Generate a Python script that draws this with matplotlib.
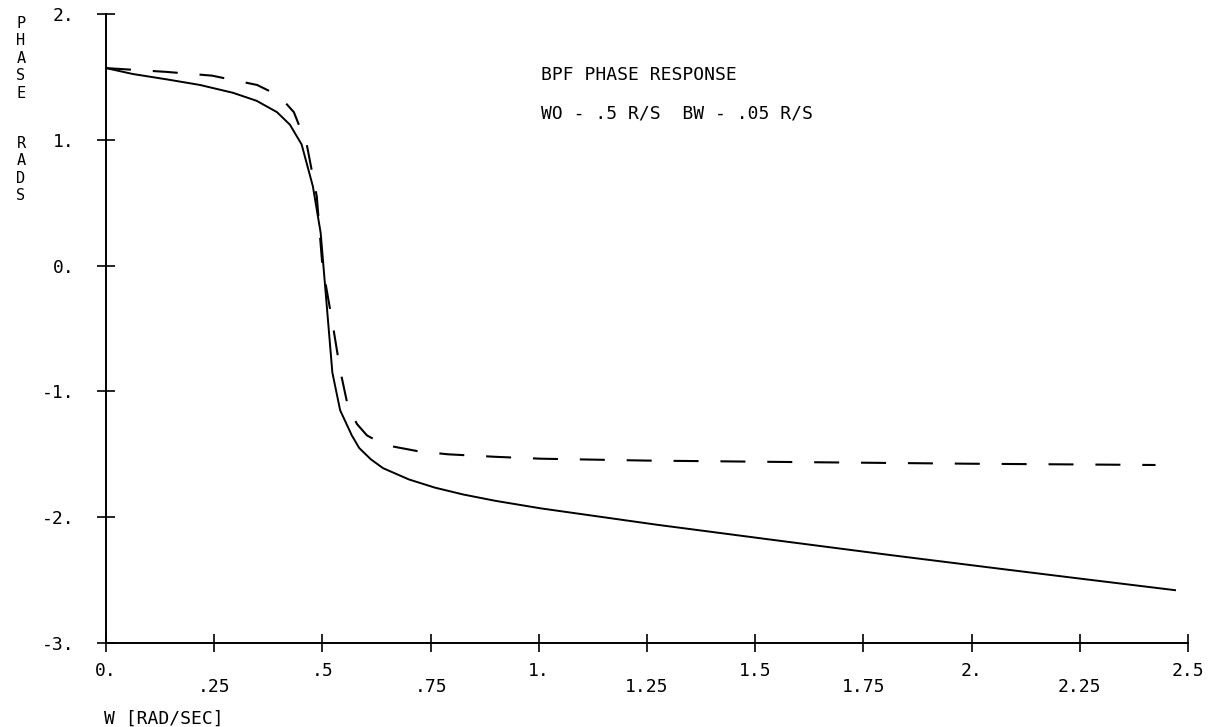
import numpy as np
import matplotlib.pyplot as plt

# band pass filter phase, solid = computed, dashed = ideal
w_solid = [0.0, 0.062, 0.141, 0.217, 0.293, 0.348, 0.395, 0.425, 0.452, 0.478,
           0.496, 0.505, 0.514, 0.523, 0.541, 0.568, 0.585, 0.612, 0.64, 0.70,
           0.76, 0.826, 0.9, 1.005, 1.273, 1.54, 1.81, 2.066, 2.255, 2.47]
ph_solid = [1.57, 1.523, 1.48, 1.436, 1.374, 1.31, 1.22, 1.12, 0.963, 0.63,
            0.26, -0.11, -0.48, -0.85, -1.15, -1.35, -1.45, -1.54, -1.61, -1.70,
            -1.765, -1.82, -1.87, -1.93, -2.06, -2.18, -2.30, -2.41, -2.49, -2.58]

w_dash = [0.0, 0.139, 0.245, 0.349, 0.40, 0.434, 0.464, 0.487, 0.50, 0.523,
          0.541, 0.559, 0.58, 0.603, 0.63, 0.666, 0.72, 0.79, 0.9, 1.005,
          1.25, 1.54, 2.0, 2.425]
ph_dash = [1.57, 1.54, 1.51, 1.436, 1.35, 1.22, 0.96, 0.55, 0.0, -0.45,
           -0.83, -1.12, -1.26, -1.35, -1.40, -1.44, -1.475, -1.50, -1.52, -1.535,
           -1.55, -1.56, -1.575, -1.585]

x_major = [0.0, 0.5, 1.0, 1.5, 2.0, 2.5]
x_major_lbl = ['0.', '.5', '1.', '1.5', '2.', '2.5']
x_minor = [0.25, 0.75, 1.25, 1.75, 2.25]
x_minor_lbl = ['.25', '.75', '1.25', '1.75', '2.25']
y_ticks = [-3, -2, -1, 0, 1, 2]
y_lbl = ['-3.', '-2.', '-1.', '0.', '1.', '2.']

FONT = 'DejaVu Sans Mono'
FS = 13

fig = plt.figure(figsize=(12.09, 7.27), dpi=100)
W, H = 1209, 727
ax = fig.add_axes([106 / W, 1 - 643 / H, (1188 - 106) / W, (643 - 14) / H])

ax.plot(w_solid, ph_solid, color='black', lw=1.4, clip_on=False)
ax.plot(w_dash, ph_dash, color='black', lw=1.5, dashes=(12, 10.5), clip_on=False)

ax.set_xlim(0, 2.5)
ax.set_ylim(-3, 2)
for s in ['top', 'right']:
    ax.spines[s].set_visible(False)
for s in ['left', 'bottom']:
    ax.spines[s].set_linewidth(1.4)

ax.set_xticks(x_major)
ax.set_xticklabels(x_major_lbl, family=FONT, fontsize=FS)
ax.set_xticks(x_minor, minor=True)
ax.set_xticklabels(x_minor_lbl, minor=True, family=FONT, fontsize=FS)
ax.set_yticks(y_ticks)
ax.set_yticklabels(y_lbl, family=FONT, fontsize=FS)

ax.tick_params(axis='both', which='both', direction='inout', length=13, width=1.2)
ax.tick_params(axis='x', which='major', pad=7)
ax.tick_params(axis='x', which='minor', pad=19)
ax.tick_params(axis='y', pad=16)

# stacked y-axis caption
fig.text(21 / W, 1 - 16 / H, 'P\nH\nA\nS\nE', family=FONT, fontsize=11,
         ha='center', va='top', linespacing=1.2)
fig.text(21 / W, 1 - 136 / H, 'R\nA\nD\nS', family=FONT, fontsize=11,
         ha='center', va='top', linespacing=1.2)

fig.text(104 / W, 1 - 719 / H, 'W [RAD/SEC]', family=FONT, fontsize=FS,
         ha='left', va='center')

fig.text(541 / W, 1 - 75 / H, 'BPF PHASE RESPONSE', family=FONT, fontsize=FS,
         ha='left', va='center')
fig.text(541 / W, 1 - 114 / H, 'WO - .5 R/S  BW - .05 R/S', family=FONT, fontsize=FS,
         ha='left', va='center')

fig.savefig('out.png', dpi=100)
